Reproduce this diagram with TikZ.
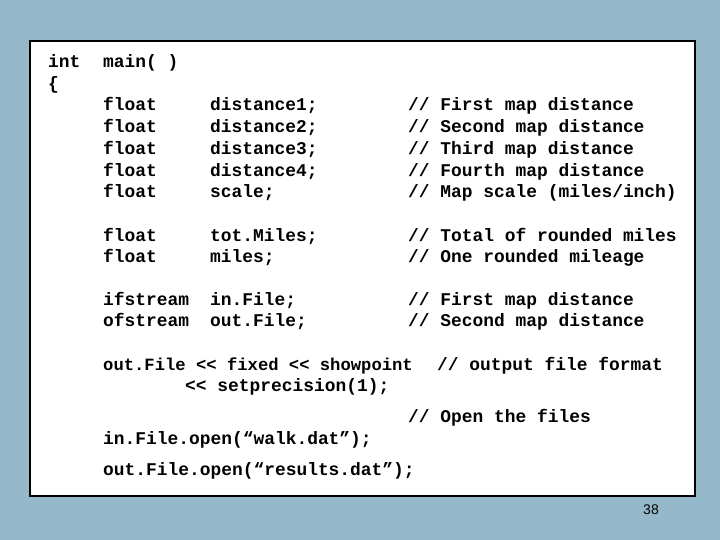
\documentclass[tikz,border=0pt]{standalone}
\usepackage{fontspec}
\setmonofont{Liberation Mono}
\setsansfont{Liberation Sans}
\definecolor{bg}{HTML}{95B9CB}
\begin{document}
\begin{tikzpicture}[x=1pt,y=-1pt,
  code/.style={anchor=west,inner sep=0pt,font=\ttfamily\bfseries\fontsize{17.9}{20}\selectfont,text height=12pt,text depth=3pt},
  codesm/.style={code,font=\ttfamily\bfseries\fontsize{17.2}{20}\selectfont}]
\fill[bg] (0,0) rectangle (720,540);
\useasboundingbox (0,0) rectangle (720,540);
\node[draw=black,line width=2.2pt,fill=white,minimum width=665pt,minimum height=455pt,inner sep=0pt,anchor=north west] (page) at (29,40) {};
\foreach \t/\x/\y [count=\i] in {
 int/48/63, {main( )}/103/63, \{/48/85,
 float/103/106, float/103/128, float/103/150, float/103/172, float/103/193,
 distance1;/210/106, distance2;/210/128, distance3;/210/150, distance4;/210/172, scale;/210/193,
 {// First map distance}/408/106, {// Second map distance}/408/128, {// Third map distance}/408/150,
 {// Fourth map distance}/408/172, {// Map scale (miles/inch)}/408/193,
 float/103/237, float/103/258, tot.Miles;/210/237, miles;/210/258,
 {// Total of rounded miles}/408/237, {// One rounded mileage}/408/258,
 ifstream/103/301, ofstream/103/322, in.File;/210/301, out.File;/210/322,
 {// First map distance}/408/301, {// Second map distance}/408/322,
 {<< setprecision(1);}/185/387,
 {// output file format}/437/366,
 {// Open the files}/408/418,
 {in.File.open(“walk.dat”);}/103/440,
 {out.File.open(“results.dat”);}/103/471}
 \node[code] (t\i) at (\x,\y) {\t};
\node[codesm] (fmt) at (103,366) {out.File << fixed << showpoint};
\node[font=\sffamily\fontsize{14}{16}\selectfont,inner sep=0pt] (num) at (651,510) {38};
\end{tikzpicture}
\end{document}
